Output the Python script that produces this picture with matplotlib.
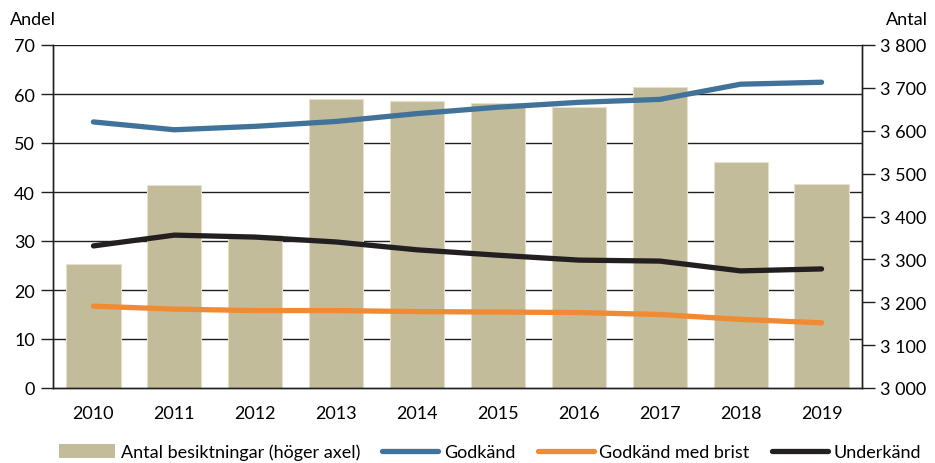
import matplotlib
matplotlib.use("Agg")
import matplotlib.pyplot as plt
from matplotlib.ticker import FuncFormatter
from matplotlib.patches import Patch
from matplotlib.lines import Line2D

years = ["2010", "2011", "2012", "2013", "2014", "2015", "2016", "2017", "2018", "2019"]
antal = [3289, 3473, 3357, 3674, 3669, 3664, 3655, 3702, 3527, 3476]
godkand = [54.3, 52.7, 53.4, 54.4, 56.0, 57.3, 58.3, 58.9, 62.0, 62.4]
godkand_brist = [16.7, 16.1, 15.8, 15.8, 15.6, 15.5, 15.4, 15.0, 14.0, 13.3]
underkand = [29.0, 31.2, 30.8, 29.8, 28.2, 27.1, 26.1, 25.9, 23.9, 24.3]

plt.rcParams['font.family'] = ['Lato', 'DejaVu Sans']
fs = 13

fig = plt.figure(figsize=(9.35, 4.64), dpi=100)
ax = fig.add_axes([53/935, 1 - 389/464, (862-53)/935, (389-46)/464])
ax2 = ax.twinx()

x = list(range(len(years)))
L0, L1 = 0, 70
R0, R1 = 3000, 3800

ax2.bar(x, antal, width=0.67, color="#C2BC9A", edgecolor="#E4E0CC", linewidth=0.8, zorder=2)
ax2.set_ylim(R0, R1)
ax2.set_yticks(range(3000, 3801, 100))
ax2.yaxis.set_major_formatter(FuncFormatter(lambda v, p: f"{int(v):,}".replace(",", " ")))

ax.set_zorder(ax2.get_zorder() + 1)
ax.patch.set_visible(False)

ax.set_ylim(L0, L1)
ax.set_yticks(range(0, 71, 10))
ax.set_xlim(-0.5, 9.5)
ax.set_xticks(x)
ax.set_xticklabels(years)

# gridlines at left-axis values, drawn behind the bars
for v in range(10, 71, 10):
    rv = R0 + (v - L0) / (L1 - L0) * (R1 - R0)
    ax2.axhline(rv, color="#231F20", linewidth=1.0, zorder=1)

lw = 3.8
ax.plot(x, godkand, color="#41729A", linewidth=lw, solid_capstyle="round", zorder=3)
ax.plot(x, godkand_brist, color="#F08A33", linewidth=lw, solid_capstyle="round", zorder=3)
ax.plot(x, underkand, color="#231F20", linewidth=lw, solid_capstyle="round", zorder=3)

for a in (ax, ax2):
    a.spines['top'].set_visible(False)
    for s in ('left', 'right', 'bottom'):
        a.spines[s].set_color("#231F20")
        a.spines[s].set_linewidth(1.0)
ax.tick_params(axis='y', length=9, width=1.0, labelsize=fs, pad=4, color="#231F20")
ax.tick_params(axis='x', length=0, labelsize=fs, pad=12)
ax2.tick_params(axis='y', length=9, width=1.0, labelsize=fs, pad=4, color="#231F20")

fig.text(10/935, 1 - 20/464, "Andel", fontsize=fs, va='center', ha='left')
fig.text(928/935, 1 - 20/464, "Antal", fontsize=fs, va='center', ha='right')

handles = [
    Patch(facecolor="#C2BC9A", edgecolor="none"),
    Line2D([0], [0], color="#41729A", linewidth=lw, solid_capstyle="round"),
    Line2D([0], [0], color="#F08A33", linewidth=lw, solid_capstyle="round"),
    Line2D([0], [0], color="#231F20", linewidth=lw, solid_capstyle="round"),
]
labels = ["Antal besiktningar (höger axel)", "Godkänd", "Godkänd med brist", "Underkänd"]
fig.legend(handles, labels, loc='center', bbox_to_anchor=(490/935, 1 - 453/464), ncol=4,
           frameon=False, fontsize=fs, handlelength=3.1, handletextpad=0.3, columnspacing=1.25,
           handleheight=0.8)

fig.savefig("out.png", dpi=100)
